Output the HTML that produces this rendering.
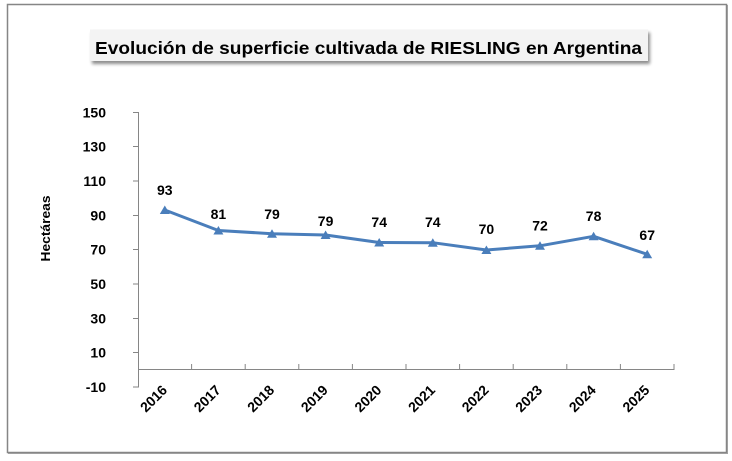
<!DOCTYPE html>
<html>
<head>
<meta charset="utf-8">
<style>
  html,body{margin:0;padding:0;background:#fff;}
  svg{display:block;}
  text{font-family:"Liberation Sans", Arial, sans-serif;font-weight:bold;fill:#000;}
</style>
</head>
<body>
<svg width="732" height="461" viewBox="0 0 732 461" xmlns="http://www.w3.org/2000/svg">
  <defs>
    <filter id="sh" x="-5%" y="-30%" width="110%" height="170%">
      <feGaussianBlur in="SourceAlpha" stdDeviation="1.5"/>
      <feOffset dx="2" dy="3" result="o"/>
      <feComponentTransfer><feFuncA type="linear" slope="0.45"/></feComponentTransfer>
      <feMerge><feMergeNode/><feMergeNode in="SourceGraphic"/></feMerge>
    </filter>
  </defs>
  <rect x="0" y="0" width="732" height="461" fill="#fff"/>
  <!-- chart border -->
  <rect x="7.5" y="4.5" width="719" height="448" fill="#fff" stroke="#868686" stroke-width="1.5"/>
  <line x1="8" y1="453.5" x2="727" y2="453.5" stroke="#a0a0a0" stroke-width="1"/>
  <line x1="727.5" y1="5" x2="727.5" y2="454" stroke="#a0a0a0" stroke-width="1"/>

  <!-- title box -->
  <rect x="90" y="29.5" width="558" height="31.5" fill="#f3f3f3" filter="url(#sh)"/>
  <text x="95" y="54" font-size="17.5" textLength="547" lengthAdjust="spacingAndGlyphs">Evolución de superficie cultivada de RIESLING en Argentina</text>

  <!-- y axis -->
  <line x1="138.5" y1="112" x2="138.5" y2="387.5" stroke="#868686" stroke-width="1"/>
  <g stroke="#868686" stroke-width="1">
    <line x1="133" y1="112.5" x2="139" y2="112.5"/>
    <line x1="133" y1="146.5" x2="139" y2="146.5"/>
    <line x1="133" y1="181" x2="139" y2="181"/>
    <line x1="133" y1="215.5" x2="139" y2="215.5"/>
    <line x1="133" y1="249.5" x2="139" y2="249.5"/>
    <line x1="133" y1="284" x2="139" y2="284"/>
    <line x1="133" y1="318.5" x2="139" y2="318.5"/>
    <line x1="133" y1="352.5" x2="139" y2="352.5"/>
    <line x1="133" y1="387" x2="139" y2="387"/>
  </g>
  <g font-size="14" text-anchor="end">
    <text x="106" y="117.5">150</text>
    <text x="106" y="151.5">130</text>
    <text x="106" y="186">110</text>
    <text x="106" y="220.5">90</text>
    <text x="106" y="254.5">70</text>
    <text x="106" y="289">50</text>
    <text x="106" y="323.5">30</text>
    <text x="106" y="357.5">10</text>
    <text x="106" y="392">-10</text>
  </g>
  <text transform="translate(50,228.5) rotate(-90)" font-size="13" text-anchor="middle" textLength="66" lengthAdjust="spacingAndGlyphs">Hectáreas</text>

  <!-- x axis -->
  <line x1="138" y1="369.5" x2="674.5" y2="369.5" stroke="#868686" stroke-width="1"/>
  <g stroke="#868686" stroke-width="1">
    <line x1="191.6" y1="364" x2="191.6" y2="370"/>
    <line x1="245.2" y1="364" x2="245.2" y2="370"/>
    <line x1="298.8" y1="364" x2="298.8" y2="370"/>
    <line x1="352.4" y1="364" x2="352.4" y2="370"/>
    <line x1="406" y1="364" x2="406" y2="370"/>
    <line x1="459.6" y1="364" x2="459.6" y2="370"/>
    <line x1="513.2" y1="364" x2="513.2" y2="370"/>
    <line x1="566.8" y1="364" x2="566.8" y2="370"/>
    <line x1="620.4" y1="364" x2="620.4" y2="370"/>
    <line x1="674" y1="364" x2="674" y2="370"/>
  </g>
  <g font-size="14" text-anchor="end">
    <text transform="translate(168,391) rotate(-45)">2016</text>
    <text transform="translate(221.6,391) rotate(-45)">2017</text>
    <text transform="translate(275.2,391) rotate(-45)">2018</text>
    <text transform="translate(328.8,391) rotate(-45)">2019</text>
    <text transform="translate(382.4,391) rotate(-45)">2020</text>
    <text transform="translate(436,391) rotate(-45)">2021</text>
    <text transform="translate(489.6,391) rotate(-45)">2022</text>
    <text transform="translate(543.2,391) rotate(-45)">2023</text>
    <text transform="translate(596.8,391) rotate(-45)">2024</text>
    <text transform="translate(650.4,391) rotate(-45)">2025</text>
  </g>

  <!-- series -->
  <polyline fill="none" stroke="#4a7ebb" stroke-width="3" stroke-linejoin="round"
    points="164.8,210 218.4,230.5 272,233.7 325.6,235 379.2,242.5 432.8,242.7 486.4,250 540,245.8 593.6,236.3 647.2,254.3"/>
  <g fill="#4a7ebb">
    <polygon points="164.8,205.5 169.8,214 159.8,214"/>
    <polygon points="218.4,226 223.4,234.5 213.4,234.5"/>
    <polygon points="272,229.2 277,237.7 267,237.7"/>
    <polygon points="325.6,230.5 330.6,239 320.6,239"/>
    <polygon points="379.2,238 384.2,246.5 374.2,246.5"/>
    <polygon points="432.8,238.2 437.8,246.7 427.8,246.7"/>
    <polygon points="486.4,245.5 491.4,254 481.4,254"/>
    <polygon points="540,241.3 545,249.8 535,249.8"/>
    <polygon points="593.6,231.8 598.6,240.3 588.6,240.3"/>
    <polygon points="647.2,249.8 652.2,258.3 642.2,258.3"/>
  </g>
  <g font-size="14" text-anchor="middle">
    <text x="164.8" y="195">93</text>
    <text x="218.4" y="219">81</text>
    <text x="272" y="219">79</text>
    <text x="325.6" y="226">79</text>
    <text x="379.2" y="227">74</text>
    <text x="432.8" y="227">74</text>
    <text x="486.4" y="234">70</text>
    <text x="540" y="230.5">72</text>
    <text x="593.6" y="221">78</text>
    <text x="647.2" y="240">67</text>
  </g>
</svg>
</body>
</html>
